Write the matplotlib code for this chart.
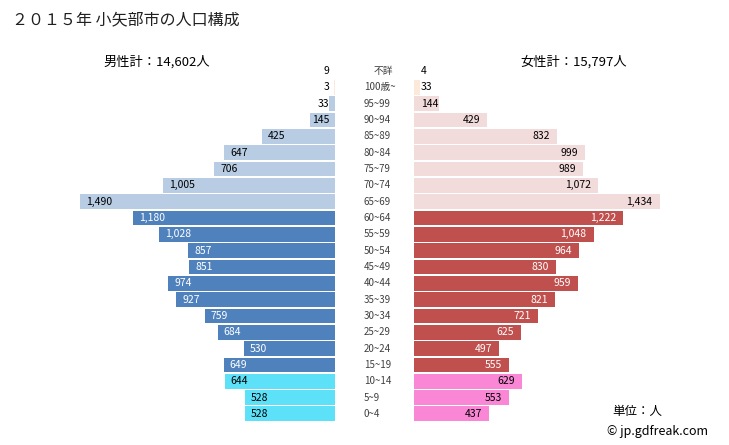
import numpy as np
import matplotlib
matplotlib.use('Agg')
import matplotlib.pyplot as plt

plt.rcParams['font.family'] = ['Noto Sans CJK JP', 'DejaVu Sans']

# data, top row first
ages = ['不詳', '100歳~', '95~99', '90~94', '85~89', '80~84', '75~79', '70~74',
        '65~69', '60~64', '55~59', '50~54', '45~49', '40~44', '35~39', '30~34',
        '25~29', '20~24', '15~19', '10~14', '5~9', '0~4']
male = [9, 3, 33, 145, 425, 647, 706, 1005, 1490, 1180, 1028, 857, 851, 974, 927,
        759, 684, 530, 649, 644, 528, 528]
female = [4, 33, 144, 429, 832, 999, 989, 1072, 1434, 1222, 1048, 964, 830, 959, 821,
          721, 625, 497, 555, 629, 553, 437]
male_total = '男性計：14,602人'
female_total = '女性計：15,797人'
title = '２０１５年 小矢部市の人口構成'


def group(a):
    if a == '不詳':
        return 'na'
    if a == '100歳~':
        return 'c100'
    lo = int(a.split('~')[0])
    if lo >= 65:
        return 'old'
    if lo >= 15:
        return 'mid'
    return 'young'


m_col = {'c100': '#fde9d9', 'old': '#b8cce4', 'mid': '#4f81bd', 'young': '#5ce1f9'}
f_col = {'c100': '#fde9d9', 'old': '#f2dcdb', 'mid': '#c0504d', 'young': '#f987d6'}
txt_col = {'na': '#000000', 'c100': '#000000', 'old': '#000000', 'mid': '#ffffff', 'young': '#000000'}

W, H = 729, 445
fig = plt.figure(figsize=(W / 100, H / 100), dpi=100)

s = 0.1713          # pixels per person
xmax = 1750
top_px, bot_px = 63, 422
n = len(ages)
y = np.arange(n)


def add_ax(x0_px, w_px):
    return fig.add_axes([x0_px / W, 1 - bot_px / H, w_px / W, (bot_px - top_px) / H])


axL = add_ax(335 - xmax * s, xmax * s)
axR = add_ax(414, xmax * s)
axM = add_ax(335, 79)

for ax in (axL, axR, axM):
    ax.set_ylim(n - 0.5, -0.5)
    ax.axis('off')
axL.set_xlim(xmax, 0)
axR.set_xlim(0, xmax)
axM.set_xlim(0, 79)

for i, a in enumerate(ages):
    g = group(a)
    if g != 'na':
        axL.barh(i, male[i], height=0.9, color=m_col[g])
        axR.barh(i, female[i], height=0.9, color=f_col[g])
    # male labels
    if male[i] >= 200:
        axL.annotate(f'{male[i]:,}', xy=(male[i], i), xytext=(6, 0), textcoords='offset pixels',
                     ha='left', va='center', fontsize=7.5, color=txt_col[g])
    else:
        axL.annotate(f'{male[i]:,}', xy=(0, i), xytext=(-6, 0), textcoords='offset pixels',
                     ha='right', va='center', fontsize=7.5, color='#000000')
    # female labels
    if female[i] >= 200:
        axR.annotate(f'{female[i]:,}', xy=(female[i], i), xytext=(-7, 0), textcoords='offset pixels',
                     ha='right', va='center', fontsize=7.5, color=txt_col[g])
    else:
        axR.annotate(f'{female[i]:,}', xy=(0, i), xytext=(7, 0), textcoords='offset pixels',
                     ha='left', va='center', fontsize=7.5, color='#000000')
    # age labels
    if g == 'na':
        axM.text(48, i, a, ha='center', va='center', fontsize=7, color='#404040')
    else:
        axM.text(29, i, a, ha='left', va='center', fontsize=7, color='#404040')

fig.text(12 / W, 1 - 20 / H, title, ha='left', va='center', fontsize=11.5, color='#202020')
fig.text(157 / W, 1 - 62 / H, male_total, ha='center', va='center', fontsize=9.5)
fig.text(574 / W, 1 - 62 / H, female_total, ha='center', va='center', fontsize=9.5)
fig.text(612 / W, 1 - 411 / H, '単位：人', ha='left', va='center', fontsize=9)
fig.text(607 / W, 1 - 431 / H, '© jp.gdfreak.com', ha='left', va='center', fontsize=9)

fig.savefig('out.png', dpi=100)
